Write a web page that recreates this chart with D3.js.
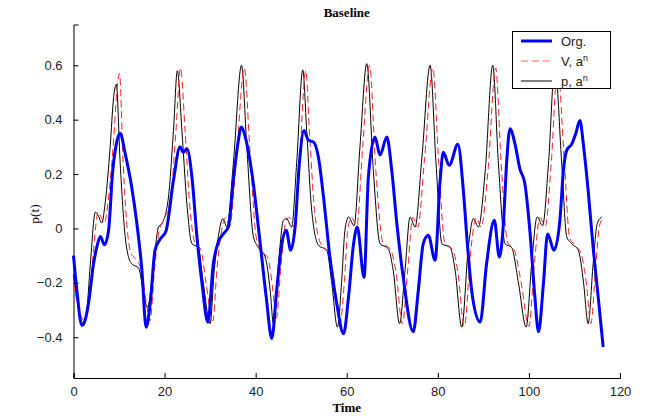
<!DOCTYPE html>
<html><head><meta charset="utf-8">
<script src="https://cdn.jsdelivr.net/npm/d3@7"></script>
<style>body{margin:0;background:#fff}svg{display:block}</style>
</head><body><svg id="c" width="646" height="418"></svg>
<script>
const title = "Baseline";
const xLabel = "Time";
const yLabel = "p(t)";
const xTicks = [0, 20, 40, 60, 80, 100, 120];
const yTicks = [-0.4, -0.2, 0, 0.2, 0.4, 0.6];
const seriesNames = ["Org.", "V, a", "p, a"];

// Org. (blue, thick) [time, value]
const orgData = [
[0,-0.1],[0.75,-0.23],[1.85,-0.356],[2.5,-0.34],[3.3,-0.275],[4.4,-0.13],[5.1,-0.07],[5.9,-0.03],[6.8,-0.06],[7.7,-0.007],
[8.6,0.21],[9.4,0.31],[10.25,0.35],[11.35,0.275],[12.8,0.15],[13.9,0.02],[15.0,-0.15],[15.95,-0.363],[16.85,-0.275],[17.9,-0.08],
[19.0,-0.04],[20.3,-0.01],[21.95,0.177],[23.4,0.3],[24.1,0.28],[24.9,0.293],[26.0,0.19],[27.1,-0.03],[28.2,-0.2],[29.5,-0.345],
[30.7,-0.13],[31.8,-0.05],[32.9,-0.02],[34.0,0.005],[35.1,0.177],[36.2,0.324],[36.8,0.373],[37.9,0.324],[39.2,0.2],[41.0,-0.056],
[42.3,-0.25],[43.55,-0.405],[44.6,-0.23],[45.75,-0.056],[46.7,-0.007],[47.7,-0.08],[48.65,0.005],[49.6,0.24],[50.6,0.36],[51.6,0.324],
[52.7,0.318],[53.8,0.26],[54.9,0.115],[56.3,-0.105],[57.8,-0.276],[59.3,-0.387],[60.4,-0.25],[61.5,-0.056],[62.3,0.005],[63.8,-0.18],
[64.75,0.19],[66.2,0.336],[67.3,0.27],[68.8,0.336],[69.9,0.21],[71.0,0.018],[72.4,-0.18],[74.6,-0.38],[75.7,-0.23],[76.8,-0.056],
[77.9,-0.025],[79.4,-0.117],[80.5,0.177],[81.2,0.28],[82.5,0.232],[84.4,0.31],[85.6,0.14],[86.5,-0.06],[87.6,-0.25],[89.3,-0.344],
[90.7,-0.13],[92.4,0.03],[93.5,-0.105],[94.4,0.018],[95.1,0.24],[95.85,0.367],[96.95,0.31],[98.0,0.22],[99.1,0.165],[100.2,-0.007],
[101.3,-0.25],[102.1,-0.38],[103.2,-0.2],[104.1,-0.02],[105.5,-0.08],[106.8,0.03],[107.55,0.21],[108.3,0.287],[109.4,0.31],[110.3,0.35],
[111.2,0.397],[111.95,0.31],[113.0,0.14],[114.1,-0.07],[115.2,-0.25],[116.3,-0.436]
];

// V, a^n (red dashed)
const vData = [
[0,-0.2],[1.2,-0.3],[2.6,-0.34],[3.3,-0.28],[4.3,-0.1],[5.4,0.06],[6.1,0.04],[6.8,0.02],[7.6,0.1],[8.7,0.3],
[9.5,0.5],[10.1,0.57],[10.9,0.24],[11.9,-0.02],[12.6,-0.09],[13.5,-0.11],[14.8,-0.15],[15.9,-0.26],[16.8,-0.34],[17.8,-0.15],
[18.8,-0.01],[19.8,0.03],[21.4,0.12],[22.5,0.36],[23.5,0.59],[24.5,0.36],[25.5,0.09],[26.6,-0.05],[28.0,-0.08],[29.1,-0.2],
[30.6,-0.34],[31.5,-0.15],[32.4,-0.02],[33.4,0.04],[34.3,0.01],[35.7,0.24],[37.5,0.59],[38.7,0.3],[40.1,-0.03],[41.2,-0.08],
[42.7,-0.11],[43.8,-0.23],[44.5,-0.33],[45.6,-0.13],[46.7,0.03],[47.4,0.04],[48.5,0.005],[49.6,0.24],[51.0,0.58],[51.8,0.36],
[52.9,0.07],[54.4,-0.06],[56.2,-0.09],[57.3,-0.2],[58.5,-0.35],[59.5,-0.19],[60.2,-0.01],[61.0,0.04],[62.2,0.01],[63.5,0.3],
[65.0,0.6],[66.4,0.21],[67.9,-0.05],[69.7,-0.08],[70.8,-0.16],[72.2,-0.35],[73.4,-0.15],[74.5,0.04],[75.6,0.005],[77.1,0.26],
[78.9,0.59],[80.2,0.24],[81.5,-0.05],[83.3,-0.08],[84.4,-0.16],[85.8,-0.36],[87.3,-0.07],[88.4,0.04],[89.5,0.005],[91.0,0.21],
[92.7,0.59],[93.9,0.24],[95.3,-0.05],[96.8,-0.08],[98.3,-0.2],[100.0,-0.36],[101.2,-0.13],[102.4,0.04],[103.6,0.01],[104.9,0.24],
[106.3,0.59],[107.8,0.24],[108.9,-0.03],[110.0,-0.06],[111.4,-0.09],[112.6,-0.2],[113.6,-0.35],[114.7,-0.13],[115.5,0.01],[116.0,0.03]
];

// p, a^n (black thin)
const pData = [
[0,-0.17],[1.0,-0.28],[2.1,-0.35],[2.8,-0.32],[3.7,-0.13],[4.8,0.06],[5.5,0.045],[6.2,0.02],[7.0,0.1],[8.05,0.3],
[8.8,0.48],[9.4,0.53],[10.25,0.24],[11.35,-0.03],[12.0,-0.1],[12.8,-0.13],[14.3,-0.146],[15.4,-0.24],[16.25,-0.29],[17.6,-0.13],
[18.65,0.005],[19.5,0.02],[20.85,0.115],[21.95,0.36],[22.8,0.58],[23.8,0.36],[24.9,0.09],[26.0,-0.056],[27.4,-0.07],[28.5,-0.2],
[30.0,-0.35],[30.9,-0.155],[31.8,-0.03],[32.8,0.036],[33.7,0.005],[35.1,0.24],[36.9,0.6],[38.05,0.3],[39.5,-0.03],[40.6,-0.07],
[42.1,-0.105],[43.2,-0.23],[43.9,-0.35],[45.0,-0.13],[46.1,0.03],[46.8,0.036],[47.9,0.005],[49.0,0.24],[50.35,0.583],[51.2,0.36],
[52.3,0.067],[53.8,-0.062],[55.6,-0.08],[56.7,-0.2],[57.95,-0.363],[58.9,-0.19],[59.6,-0.007],[60.4,0.042],[61.6,0.01],[62.9,0.3],
[64.4,0.606],[65.85,0.21],[67.3,-0.056],[69.1,-0.074],[70.2,-0.154],[71.6,-0.35],[72.8,-0.154],[73.9,0.042],[75.0,0.005],[76.5,0.26],
[78.3,0.6],[79.6,0.24],[80.9,-0.056],[82.7,-0.07],[83.8,-0.154],[85.25,-0.363],[86.7,-0.07],[87.8,0.036],[88.9,0.005],[90.4,0.21],
[92.05,0.6],[93.3,0.24],[94.75,-0.056],[96.2,-0.07],[97.7,-0.2],[99.4,-0.363],[100.6,-0.13],[101.8,0.042],[103.0,0.01],[104.3,0.24],
[105.7,0.6],[107.2,0.24],[108.3,-0.03],[109.4,-0.056],[110.85,-0.08],[112.0,-0.2],[113.0,-0.35],[114.1,-0.13],[115.0,0.018],[116.0,0.042]
];

const W = 646, H = 418;
const m = {left: 73.5, right: 26, top: 24.5, bottom: 40};
const svg = d3.select("#c");
const x = d3.scaleLinear().domain([0, 120]).range([m.left, W - m.right]);
const y = d3.scaleLinear().domain([-0.55, 0.75]).range([H - m.bottom, m.top]);

const tickFont = "Arial, 'Liberation Sans', sans-serif";
const serif = "'Times New Roman', 'Liberation Serif', serif";

// axes
const xAxis = svg.append("g").attr("transform", `translate(0,${H - m.bottom})`)
  .call(d3.axisBottom(x).tickValues(xTicks).tickSize(-5).tickPadding(9).tickFormat(d3.format("d")));
const yAxis = svg.append("g").attr("transform", `translate(${m.left},0)`)
  .call(d3.axisLeft(y).tickValues(yTicks).tickSize(-5).tickPadding(11).tickFormat(d => d === 0 ? "0" : d3.format(".1f")(d)));
[xAxis, yAxis].forEach(g => {
  g.select(".domain").attr("stroke", "#000").attr("stroke-width", 1);
  g.selectAll(".tick line").attr("stroke", "#000");
  g.selectAll("text").attr("font-family", tickFont).attr("font-size", 13).attr("fill", "#222");
});

const line = d3.line().x(d => x(d[0])).y(d => y(d[1])).curve(d3.curveMonotoneX);

svg.append("path").datum(pData).attr("d", line).attr("fill", "none")
  .attr("stroke", "#000").attr("stroke-width", 1);
svg.append("path").datum(vData).attr("d", line).attr("fill", "none")
  .attr("stroke", "#ff2020").attr("stroke-width", 1).attr("stroke-dasharray", "7,4");
svg.append("path").datum(orgData).attr("d", line).attr("fill", "none")
  .attr("stroke", "#0000ff").attr("stroke-width", 3).attr("stroke-linejoin", "round");

// labels
svg.append("text").attr("x", (m.left + W - m.right) / 2).attr("y", 17).attr("text-anchor", "middle")
  .attr("font-family", serif).attr("font-weight", "bold").attr("font-size", 13).text(title);
svg.append("text").attr("x", (m.left + W - m.right) / 2).attr("y", 412).attr("text-anchor", "middle")
  .attr("font-family", serif).attr("font-weight", "bold").attr("font-size", 13).text(xLabel);
svg.append("text").attr("transform", `translate(39,214) rotate(-90)`).attr("text-anchor", "middle")
  .attr("font-family", serif).attr("font-size", 13.5).text(yLabel);

// legend
const lg = svg.append("g");
lg.append("rect").attr("x", 512.5).attr("y", 31.5).attr("width", 98).attr("height", 57)
  .attr("fill", "#fff").attr("stroke", "#000").attr("stroke-width", 1);
const styles = [
  {stroke: "#0000ff", w: 3, dash: null},
  {stroke: "#ff6060", w: 1, dash: "7,4"},
  {stroke: "#000", w: 1, dash: null}
];
seriesNames.forEach((name, i) => {
  const ly = 41 + i * 20;
  lg.append("line").attr("x1", 521).attr("x2", 552).attr("y1", ly).attr("y2", ly)
    .attr("stroke", styles[i].stroke).attr("stroke-width", styles[i].w)
    .attr("stroke-dasharray", styles[i].dash);
  const t = lg.append("text").attr("x", 561).attr("y", ly + 4.5)
    .attr("font-family", tickFont).attr("font-size", 13).attr("fill", "#222").text(name);
  if (i > 0) t.append("tspan").attr("dy", -5).attr("font-size", 9).text("n");
});
</script></body></html>
